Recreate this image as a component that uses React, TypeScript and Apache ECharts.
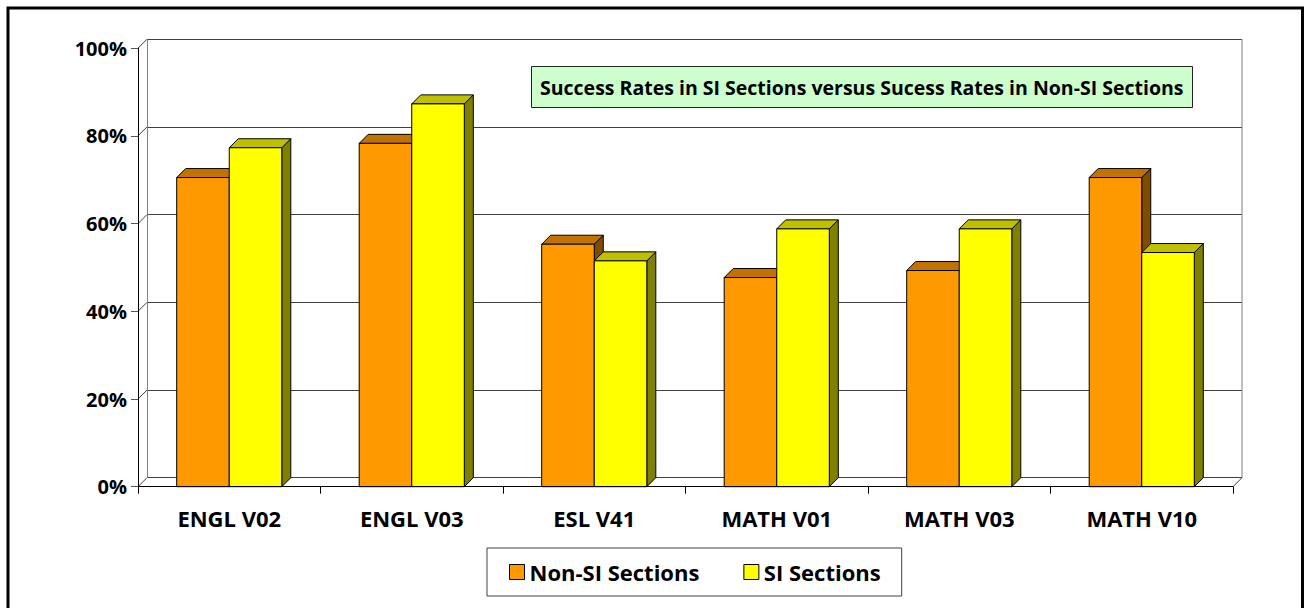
import React, { useEffect, useRef } from "react";
import * as echarts from "echarts";

// ---- data ----
const categories = ["ENGL V02", "ENGL V03", "ESL V41", "MATH V01", "MATH V03", "MATH V10"];
const nonSI = [0.705, 0.783, 0.553, 0.477, 0.493, 0.705];
const si = [0.773, 0.873, 0.515, 0.588, 0.588, 0.534];
const yTicks = [0, 0.2, 0.4, 0.6, 0.8, 1];
const seriesNames = ["Non-SI Sections", "SI Sections"];
const titleText = "Success Rates in SI Sections versus Sucess Rates in Non-SI Sections";

// ---- style ----
const DEPTH = 9;
const BAR_RATIO = 0.288;
const FONT = "'Open Sans', sans-serif";
const palette = [
  { front: "#FF9900", top: "#C07300", side: "#804C00" },
  { front: "#FFFF00", top: "#C0C000", side: "#808000" },
];

function barRenderer(seriesIdx: number) {
  return (params: any, api: any) => {
    const idx = api.value(0);
    const val = api.value(1);
    const topPt = api.coord([idx, val]);
    const basePt = api.coord([idx, 0]);
    const band = api.size([1, 0])[0];
    const bw = band * BAR_RATIO;
    const x0 = seriesIdx === 0 ? topPt[0] - bw : topPt[0];
    const x1 = x0 + bw;
    const yT = topPt[1];
    const yB = basePt[1];
    const c = palette[seriesIdx];
    const stroke = { stroke: "#000", lineWidth: 1 };
    return {
      type: "group",
      children: [
        {
          type: "polygon",
          shape: { points: [[x1, yT], [x1 + DEPTH, yT - DEPTH], [x1 + DEPTH, yB - DEPTH], [x1, yB]] },
          style: { fill: c.side, ...stroke },
        },
        {
          type: "polygon",
          shape: { points: [[x0, yT], [x1, yT], [x1 + DEPTH, yT - DEPTH], [x0 + DEPTH, yT - DEPTH]] },
          style: { fill: c.top, ...stroke },
        },
        {
          type: "rect",
          shape: { x: x0, y: yT, width: bw, height: yB - yT },
          style: { fill: c.front, ...stroke },
        },
      ],
    };
  };
}

function wallRenderer(params: any, api: any) {
  const cs = params.coordSys;
  const v = api.value(1);
  const y = api.coord([0, v])[1];
  const ls = { stroke: "#404040", lineWidth: 1 };
  const children: any[] = [
    { type: "line", shape: { x1: cs.x, y1: y, x2: cs.x + DEPTH, y2: y - DEPTH }, style: ls },
  ];
  if (v === 0) {
    const yTop = api.coord([0, 1])[1];
    const xr = cs.x + cs.width;
    children.push({ type: "line", shape: { x1: xr, y1: y, x2: xr + DEPTH, y2: y - DEPTH }, style: ls });
    children.push({
      type: "line",
      shape: { x1: xr + DEPTH, y1: y - DEPTH, x2: xr + DEPTH, y2: yTop - DEPTH },
      style: { stroke: "#808080", lineWidth: 1 },
    });
  }
  return { type: "group", children };
}

export default function App() {
  const ref = useRef<HTMLDivElement>(null);
  useEffect(() => {
    if (!ref.current) return;
    const chart = echarts.init(ref.current, undefined, { renderer: "svg" });
    const pct = (v: number) => Math.round(v * 100) + "%";
    chart.setOption({
      animation: false,
      backgroundColor: "#fff",
      title: {
        text: titleText,
        left: 531,
        top: 66,
        padding: [11, 9],
        backgroundColor: "#CCFFCC",
        borderColor: "#222",
        borderWidth: 1,
        textStyle: { fontFamily: FONT, fontWeight: "bold", fontSize: 19.5, color: "#000", lineHeight: 20 },
      },
      legend: {
        data: seriesNames,
        left: 487,
        top: 548,
        orient: "horizontal",
        padding: [13, 21, 13, 22],
        backgroundColor: "#fff",
        borderColor: "#404040",
        borderWidth: 1,
        itemWidth: 15,
        itemHeight: 15,
        itemGap: 44,
        icon: "rect",
        itemStyle: { borderColor: "#000", borderWidth: 1 },
        textStyle: { fontFamily: FONT, fontWeight: "bold", fontSize: 22, color: "#000", lineHeight: 20 },
      },
      graphic: [
        {
          type: "rect",
          silent: true,
          z: -10,
          shape: { x: 8, y: 8, width: 1294.5, height: 610 },
          style: { fill: "none", stroke: "#000", lineWidth: 3 },
        },
      ],
      grid: [
        { left: 138, top: 48.2, width: 1095, height: 438.5, containLabel: false },
        { left: 147, top: 39.2, width: 1095, height: 438.5, containLabel: false },
      ],
      xAxis: [
        {
          gridIndex: 0,
          type: "category",
          data: categories,
          boundaryGap: true,
          axisLine: { show: true, lineStyle: { color: "#000", width: 1 } },
          axisTick: { show: true, interval: 0, length: 7, lineStyle: { color: "#000" } },
          axisLabel: {
            interval: 0,
            margin: 20,
            fontFamily: FONT,
            fontWeight: "bold",
            fontSize: 22,
            color: "#000",
          },
          splitLine: { show: false },
          z: 5,
        },
        {
          gridIndex: 1,
          type: "category",
          data: categories,
          show: false,
        },
      ],
      yAxis: [
        {
          gridIndex: 0,
          type: "value",
          min: 0,
          max: 1,
          interval: 0.2,
          axisLine: { show: true, lineStyle: { color: "#000", width: 1 } },
          axisTick: { show: true, length: 7, lineStyle: { color: "#555" } },
          axisLabel: {
            margin: 11,
            formatter: pct,
            fontFamily: FONT,
            fontWeight: "bold",
            fontSize: 20,
            color: "#000",
          },
          splitLine: { show: false },
          z: 5,
        },
        {
          gridIndex: 1,
          type: "value",
          min: 0,
          max: 1,
          interval: 0.2,
          axisLine: { show: true, lineStyle: { color: "#808080", width: 1 } },
          axisTick: { show: false },
          axisLabel: { show: false },
          splitLine: { show: true, lineStyle: { color: "#404040", width: 1 } },
        },
      ],
      series: [
        {
          type: "custom",
          name: "wall",
          xAxisIndex: 0,
          yAxisIndex: 0,
          silent: true,
          data: yTicks.map((v) => [0, v]),
          renderItem: wallRenderer,
          z: 1,
        },
        {
          type: "custom",
          name: seriesNames[0],
          xAxisIndex: 0,
          yAxisIndex: 0,
          data: nonSI.map((v, i) => [i, v]),
          encode: { x: 0, y: 1 },
          itemStyle: { color: palette[0].front },
          renderItem: barRenderer(0),
          z: 3,
        },
        {
          type: "custom",
          name: seriesNames[1],
          xAxisIndex: 0,
          yAxisIndex: 0,
          data: si.map((v, i) => [i, v]),
          encode: { x: 0, y: 1 },
          itemStyle: { color: palette[1].front },
          renderItem: barRenderer(1),
          z: 4,
        },
      ],
    });
    return () => chart.dispose();
  }, []);
  return (
    <div
      ref={ref}
      style={{ position: "absolute", left: 0, top: 0, width: 1306, height: 608, background: "#fff" }}
    />
  );
}
